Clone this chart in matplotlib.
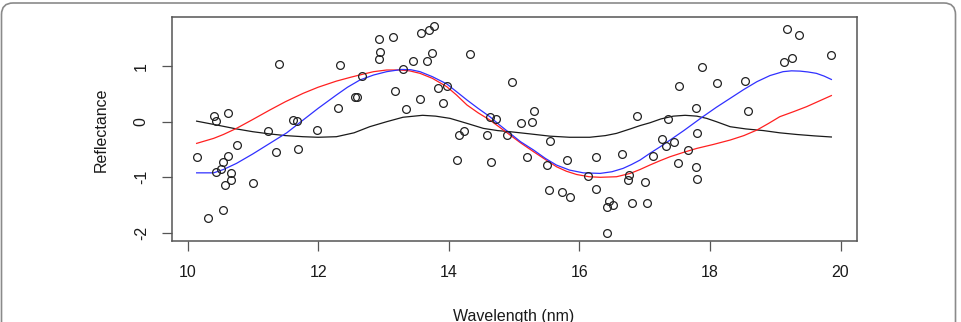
import matplotlib
matplotlib.use("Agg")
import matplotlib.pyplot as plt
from matplotlib.patches import FancyBboxPatch

plt.rcParams['font.family'] = ['Liberation Sans', 'DejaVu Sans']

# scatter data
pts_x = [10.14, 10.32, 10.40, 10.43, 10.62, 10.55, 10.62, 10.43, 10.52, 10.67, 10.67, 10.58, 10.54,
         10.76, 11.01, 11.40, 11.24, 11.36, 11.61, 11.68, 11.69, 11.98, 12.31, 12.34, 12.56, 12.60,
         12.67, 12.94, 12.95, 12.94, 13.14, 13.18, 13.30, 13.35, 13.45, 13.57, 13.70, 13.77, 13.74,
         13.67, 13.56, 13.83, 13.97, 13.91, 14.33, 14.16, 14.24, 14.13, 14.58, 14.65, 14.64, 14.72,
         14.89, 14.97, 15.10, 15.28, 15.30, 15.20, 15.55, 15.51, 15.53, 15.74, 15.86, 15.81, 16.13,
         16.26, 16.26, 16.46, 16.42, 16.52, 16.42, 16.66, 16.76, 16.74, 16.81, 16.89, 17.01, 17.04,
         17.13, 17.26, 17.33, 17.45, 17.36, 17.53, 17.51, 17.66, 17.79, 17.81, 17.79, 17.81, 17.88,
         18.11, 18.54, 18.59, 19.13, 19.26, 19.18, 19.36, 19.86]
pts_y = [-0.635, -1.737, 0.10, 0.01, 0.15, -0.72, -0.61, -0.905, -0.85, -0.92, -1.04, -1.13, -1.58,
         -0.42, -1.11, 1.04, -0.16, -0.55, 0.03, 0.01, -0.50, -0.155, 0.24, 1.025, 0.44, 0.44,
         0.83, 1.49, 1.26, 1.13, 1.52, 0.56, 0.95, 0.23, 1.10, 1.59, 1.65, 1.73, 1.24,
         1.10, 0.40, 0.61, 0.64, 0.34, 1.22, -0.245, -0.16, -0.69, -0.24, -0.72, 0.08, 0.05,
         -0.245, 0.71, -0.02, -0.01, 0.20, -0.635, -0.35, -0.77, -1.23, -1.26, -1.35, -0.68, -0.98,
         -0.635, -1.21, -1.43, -1.53, -1.49, -2.00, -0.59, -0.95, -1.04, -1.46, 0.10, -1.09, -1.46,
         -0.61, -0.32, -0.44, -0.36, 0.04, 0.65, -0.74, -0.51, 0.25, -0.21, -0.82, -1.03, 0.99,
         0.70, 0.73, 0.19, 1.07, 1.15, 1.67, 1.56, 1.20]

# fitted curves
black_x = [10.14, 10.45, 10.75, 11.0, 11.26, 11.5, 11.77, 12.0, 12.28, 12.55, 12.79, 13.05,
           13.30, 13.60, 13.8, 14.02, 14.28, 14.53, 14.75, 14.94, 15.25, 15.55, 15.85, 16.16,
           16.4, 16.57, 16.78, 16.93, 17.08, 17.25, 17.44, 17.62, 17.8, 17.95, 18.1, 18.31,
           18.55, 18.82, 19.07, 19.33, 19.6, 19.86]
black_y = [0.01, -0.06, -0.13, -0.18, -0.22, -0.25, -0.27, -0.28, -0.27, -0.20, -0.09, 0.00,
           0.08, 0.115, 0.10, 0.06, -0.03, -0.12, -0.16, -0.18, -0.22, -0.26, -0.28, -0.28,
           -0.25, -0.21, -0.13, -0.07, -0.02, 0.05, 0.10, 0.115, 0.10, 0.06, 0.0, -0.09,
           -0.13, -0.16, -0.20, -0.23, -0.255, -0.275]

red_x = [10.14, 10.40, 10.55, 10.75, 11.0, 11.26, 11.5, 11.77, 12.0, 12.28, 12.5, 12.67,
         12.85, 13.05, 13.25, 13.4, 13.56, 13.75, 13.97, 14.12, 14.28, 14.45, 14.63, 14.78,
         14.94, 15.1, 15.30, 15.48, 15.65, 15.8, 15.96, 16.15, 16.32, 16.57, 16.78, 16.93,
         17.08, 17.24, 17.39, 17.6, 17.80, 18.05, 18.31, 18.52, 18.72, 18.9, 19.07, 19.28,
         19.48, 19.67, 19.86]
red_y = [-0.39, -0.30, -0.23, -0.12, 0.04, 0.21, 0.36, 0.51, 0.62, 0.73, 0.80, 0.85,
         0.90, 0.93, 0.93, 0.915, 0.87, 0.78, 0.63, 0.48, 0.30, 0.16, 0.03, -0.10,
         -0.24, -0.38, -0.54, -0.68, -0.81, -0.89, -0.95, -0.99, -1.00, -0.99, -0.93, -0.86,
         -0.78, -0.70, -0.63, -0.55, -0.48, -0.41, -0.33, -0.25, -0.15, -0.03, 0.09, 0.18,
         0.27, 0.37, 0.47]

blue_x = [10.14, 10.40, 10.55, 10.75, 11.0, 11.26, 11.52, 11.77, 12.0, 12.28, 12.45, 12.64,
          12.85, 13.05, 13.28, 13.42, 13.56, 13.75, 13.97, 14.12, 14.28, 14.45, 14.63, 14.78,
          14.94, 15.1, 15.30, 15.48, 15.65, 15.85, 16.06, 16.32, 16.5, 16.67, 16.8, 16.93,
          17.08, 17.24, 17.39, 17.6, 17.88, 18.1, 18.31, 18.52, 18.72, 18.92, 19.12, 19.25,
          19.38, 19.5, 19.63, 19.75, 19.86]
blue_y = [-0.92, -0.92, -0.86, -0.75, -0.58, -0.39, -0.20, 0.03, 0.24, 0.48, 0.62, 0.75,
          0.84, 0.90, 0.94, 0.935, 0.90, 0.81, 0.68, 0.54, 0.39, 0.24, 0.09, -0.06,
          -0.21, -0.36, -0.51, -0.66, -0.78, -0.87, -0.92, -0.93, -0.90, -0.84, -0.77, -0.69,
          -0.57, -0.45, -0.33, -0.16, 0.08, 0.26, 0.42, 0.58, 0.72, 0.83, 0.90, 0.915,
          0.91, 0.895, 0.87, 0.82, 0.76]

x_ticks = [10, 12, 14, 16, 18, 20]
y_ticks = [-2, -1, 0, 1]

W, H = 961, 322
fig = plt.figure(figsize=(W / 100, H / 100), dpi=100)

# outer rounded border
border = FancyBboxPatch((1.5 / W, -20 / H), (955.5 - 1.5) / W, (H - 3 + 20) / H,
                        boxstyle="round,pad=0,rounding_size=0.012",
                        transform=fig.transFigure, fill=False, edgecolor='#8a8a8a',
                        linewidth=1.2, mutation_aspect=W / H)
fig.patches.append(border)

ax = fig.add_axes([171.7 / W, 1 - 241 / H, (856.7 - 171.7) / W, (241 - 17.3) / H])
ax.set_xlim(9.758, 20.248)
ax.set_ylim(-2.146, 1.878)

ax.plot(black_x, black_y, color='#1a1a1a', lw=0.9)
ax.plot(red_x, red_y, color='#ff2020', lw=0.9)
ax.plot(blue_x, blue_y, color='#3030ff', lw=0.9)
ax.plot(pts_x, pts_y, linestyle='none', marker='o', markersize=5.6, markerfacecolor='none',
        markeredgecolor='#222222', markeredgewidth=0.9)

for s in ax.spines.values():
    s.set_color('#555555')
    s.set_linewidth(1.1)

ax.set_xticks(x_ticks)
ax.set_yticks(y_ticks)
ax.set_xticklabels([str(t) for t in x_ticks])
ax.set_yticklabels([str(t) for t in y_ticks], rotation=90, va='center')
ax.tick_params(axis='both', length=7.5, width=0.9, color='#555555', labelsize=11.5,
               labelcolor='#1a1a1a')
ax.tick_params(axis='x', pad=10)
ax.tick_params(axis='y', pad=9)

fig.text(101.7 / W, 1 - 130 / H, 'Reflectance', rotation=90, ha='center', va='center',
         fontsize=11.5, color='#1a1a1a')
fig.text(514 / W, 1 - 316 / H, 'Wavelength (nm)', ha='center', va='center',
         fontsize=11.5, color='#1a1a1a')

fig.savefig('out.png', dpi=100)
